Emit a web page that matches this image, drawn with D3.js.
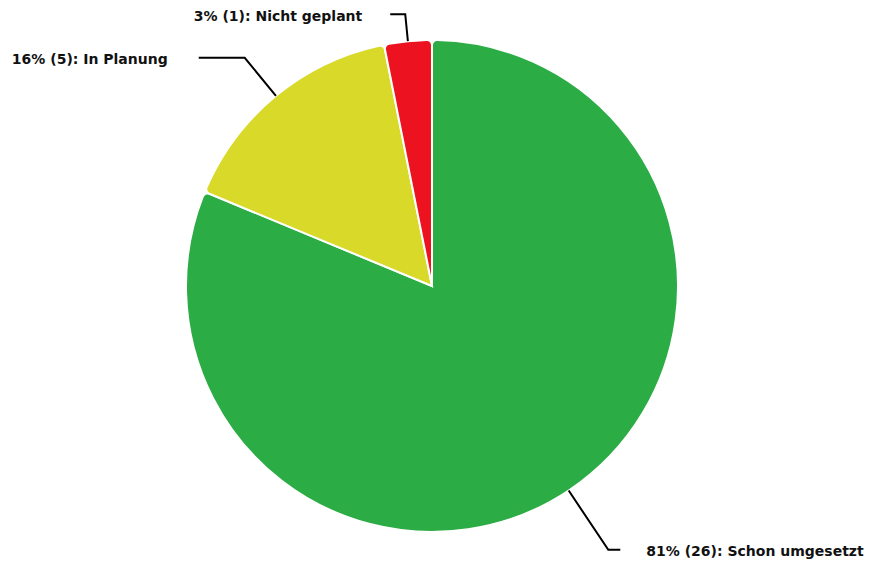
<!DOCTYPE html>
<html>
<head>
<meta charset="utf-8">
<script src="https://cdn.jsdelivr.net/npm/d3@7"></script>
<style>
  body { margin: 0; background: #fff; }
  text { font-family: "DejaVu Sans", sans-serif; font-weight: bold; font-size: 14px; fill: #111; }
</style>
</head>
<body>
<svg id="pie" width="870" height="565"></svg>
<script>
// data
const categories = ["Schon umgesetzt", "In Planung", "Nicht geplant"];
const values = [26, 5, 1];
const colors = ["#2bac45", "#d9d929", "#ec1220"];

// label layout: elbow radius factor, horizontal run, gap to text
const elbowFactor = [1.29, 1.2, 1.11];
const runLength = [12, 46, 15];
const textGap = [26, 31, 28];

const svg = d3.select("#pie"),
    cx = 432, cy = 286, radius = 246;

const total = d3.sum(values);
const data = categories.map((c, i) => ({name: c, value: values[i], color: colors[i], i: i}));

const pie = d3.pie().sort(null).value(d => d.value);
const arc = d3.arc().innerRadius(0).outerRadius(radius).cornerRadius(5);

const g = svg.append("g")
    .attr("transform", "translate(" + cx + "," + cy + ")");

const arcs = pie(data);

g.selectAll(".slice")
  .data(arcs)
  .enter()
  .append("path")
    .attr("class", "slice")
    .attr("d", arc)
    .style("fill", d => d.data.color)
    .style("stroke", "#fff")
    .style("stroke-width", 2);

// leader lines + labels
arcs.forEach(d => {
  const i = d.data.i;
  const mid = (d.startAngle + d.endAngle) / 2;
  const sx = Math.sin(mid), sy = -Math.cos(mid);
  const p0 = [sx * radius, sy * radius];
  const p1 = [sx * radius * elbowFactor[i], sy * radius * elbowFactor[i]];
  const dir = sx >= 0 ? 1 : -1;
  const p2 = [p1[0] + dir * runLength[i], p1[1]];

  g.append("polyline")
    .attr("points", [p0, p1, p2].map(p => p.join(",")).join(" "))
    .style("fill", "none")
    .style("stroke", "#000")
    .style("stroke-width", 2);

  const pct = Math.round(d.data.value / total * 100);
  g.append("text")
    .attr("x", p2[0] + dir * textGap[i])
    .attr("y", p2[1])
    .attr("dy", "0.45em")
    .style("text-anchor", dir > 0 ? "start" : "end")
    .text(pct + "% (" + d.data.value + "): " + d.data.name);
});
</script>
</body>
</html>
